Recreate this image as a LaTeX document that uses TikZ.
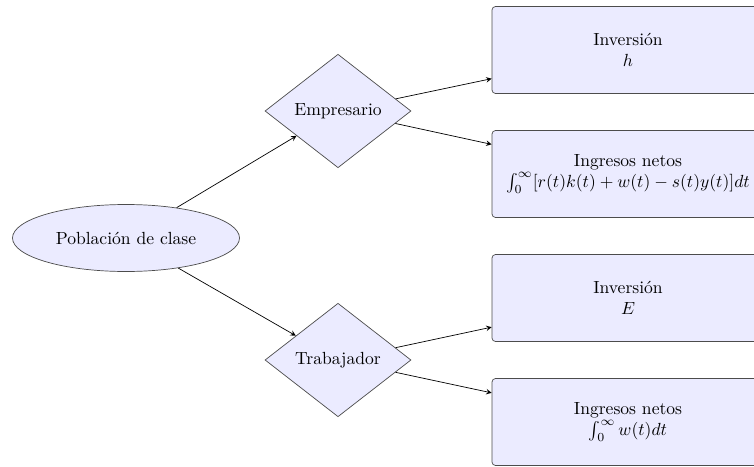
\documentclass[tikz,border=0pt]{standalone}
\usepackage{amsmath}
\usepackage{tikz}
\usetikzlibrary{positioning,shapes.geometric}

\begin{document}
\begin{tikzpicture}[
            >=stealth,
            clase/.style={ellipse, draw=black!70, fill=blue!8, minimum width=4.54cm, minimum height=1.34cm},
            tipo/.style={diamond, draw=black!70, fill=blue!8, minimum width=2.92cm, minimum height=2.27cm, inner sep=0pt},
            caja/.style={rectangle, rounded corners=2pt, draw=black!70, fill=blue!8, minimum width=5.44cm, minimum height=1.74cm, align=center},
        ]

        \clip (0,0) rectangle (15.08,9.32);

        % Clase
        \node[clase] (P) at (2.52,4.56) {Población de clase};

        % Empresario / Trabajador
        \node[tipo] (Emp) at (6.76,7.10) {Empresario};
        \node[tipo] (Trab) at (6.76,2.12) {Trabajador};

        % Cajas
        \node[caja] (E-1) at (12.56,8.32) {Inversión\\ $h$};
        \node[caja] (E-2) at (12.56,5.84) {Ingresos netos\\ $\int_0^\infty[r(t)k(t)+w(t)-s(t)y(t)]dt$};
        \node[caja] (T-1) at (12.56,3.36) {Inversión\\ $E$};
        \node[caja] (T-2) at (12.56,0.88) {Ingresos netos\\ $\int_0^\infty w(t)dt$};

        % Flechas
        \draw[->] (P) -- (Emp);
        \draw[->] (P) -- (Trab);
        \foreach \i in {1,2}
        \draw[->] (Emp) -- (E-\i);
        \foreach \i in {1,2}
        \draw[->] (Trab) -- (T-\i);

    \end{tikzpicture}
\end{document}
